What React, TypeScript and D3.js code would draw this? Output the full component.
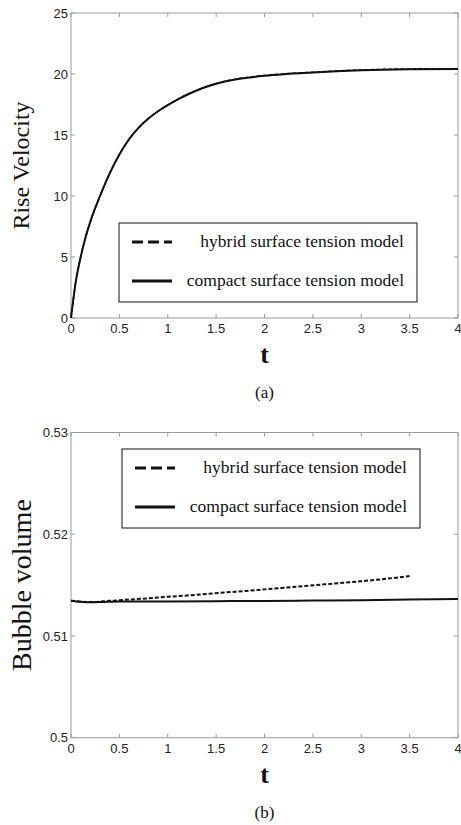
import React, { useEffect, useRef } from "react";
import * as d3 from "d3";

// panel (a): rise velocity vs t
const velT = [0, 0.05, 0.1, 0.15, 0.2, 0.3, 0.4, 0.5, 0.6, 0.7, 0.8, 0.9, 1.0, 1.1, 1.2, 1.3, 1.4, 1.5, 1.6, 1.7, 1.8, 2.0, 2.2, 2.5, 2.8, 3.0, 3.5, 4.0];
const velCompact = [0, 3.0, 5.0, 6.6, 7.9, 10.0, 11.85, 13.4, 14.65, 15.6, 16.35, 16.95, 17.45, 17.9, 18.3, 18.65, 18.95, 19.2, 19.4, 19.55, 19.67, 19.85, 19.98, 20.12, 20.24, 20.3, 20.38, 20.4];
const velHybrid = [0, 3.0, 5.0, 6.6, 7.9, 10.0, 11.85, 13.4, 14.65, 15.6, 16.35, 16.95, 17.45, 17.9, 18.32, 18.67, 18.97, 19.22, 19.42, 19.58, 19.7, 19.88, 20.01, 20.15, 20.27, 20.33, 20.42, 20.44];

// panel (b): bubble volume vs t
const volHybridT = [0, 0.2, 0.4, 0.6, 0.8, 1.0, 1.2, 1.4, 1.6, 1.8, 2.0, 2.2, 2.4, 2.6, 2.8, 3.0, 3.2, 3.4, 3.5];
const volHybrid = [0.51347, 0.51333, 0.51345, 0.51358, 0.5137, 0.51385, 0.51398, 0.51413, 0.51428, 0.51442, 0.51458, 0.51474, 0.5149, 0.51506, 0.51522, 0.51538, 0.51556, 0.51578, 0.5159];
const volCompactT = [0, 0.1, 0.2, 0.35, 0.5, 1.0, 1.5, 2.0, 2.5, 3.0, 3.5, 4.0];
const volCompact = [0.51347, 0.51336, 0.51331, 0.51335, 0.51338, 0.5134, 0.51342, 0.51344, 0.51348, 0.51352, 0.51358, 0.51364];

const xTicks = [0, 0.5, 1, 1.5, 2, 2.5, 3, 3.5, 4];
const velTicks = [0, 5, 10, 15, 20, 25];
const volTicks = [0.5, 0.51, 0.52, 0.53];
const legendLabels = ["hybrid surface tension model", "compact surface tension model"];

const W = 461;
const H = 825;
const axisColor = "#9a9a9a";
const tickFont = "'Liberation Sans', Arial, sans-serif";
const serif = "'Liberation Serif', 'Times New Roman', serif";

function drawPanel(svg, opts) {
  const { top, bottom, yDomain, yTicks, yFmt, ylabel, ylabelSize, caption, series, legend } = opts;
  const left = 71;
  const right = 458;

  const x = d3.scaleLinear().domain([0, 4]).range([left, right]);
  const y = d3.scaleLinear().domain(yDomain).range([bottom, top]);

  const g = svg.append("g");

  // box
  g.append("rect")
    .attr("x", left)
    .attr("y", top)
    .attr("width", right - left)
    .attr("height", bottom - top)
    .attr("fill", "none")
    .attr("stroke", axisColor)
    .attr("stroke-width", 1);

  // inward ticks on all four sides
  const tl = 4;
  xTicks.forEach((t) => {
    g.append("line").attr("x1", x(t)).attr("x2", x(t)).attr("y1", bottom).attr("y2", bottom - tl).attr("stroke", axisColor);
    g.append("line").attr("x1", x(t)).attr("x2", x(t)).attr("y1", top).attr("y2", top + tl).attr("stroke", axisColor);
    g.append("text")
      .attr("x", x(t))
      .attr("y", bottom + 15)
      .attr("text-anchor", "middle")
      .attr("font-family", tickFont)
      .attr("font-size", 13)
      .attr("fill", "#222")
      .text(d3.format("")(t));
  });
  yTicks.forEach((v) => {
    g.append("line").attr("x1", left).attr("x2", left + tl).attr("y1", y(v)).attr("y2", y(v)).attr("stroke", axisColor);
    g.append("line").attr("x1", right).attr("x2", right - tl).attr("y1", y(v)).attr("y2", y(v)).attr("stroke", axisColor);
    g.append("text")
      .attr("x", left - 3)
      .attr("y", y(v))
      .attr("dy", "0.35em")
      .attr("text-anchor", "end")
      .attr("font-family", tickFont)
      .attr("font-size", 13)
      .attr("fill", "#222")
      .text(yFmt(v));
  });

  // curves
  const line = d3
    .line()
    .x((d) => x(d[0]))
    .y((d) => y(d[1]))
    .curve(d3.curveMonotoneX);

  series.forEach((s) => {
    g.append("path")
      .datum(d3.zip(s.t, s.v))
      .attr("d", line)
      .attr("fill", "none")
      .attr("stroke", "#111")
      .attr("stroke-width", s.width)
      .attr("stroke-dasharray", s.dash || null);
  });

  // legend
  const lg = g.append("g");
  lg.append("rect")
    .attr("x", legend.x)
    .attr("y", legend.y)
    .attr("width", legend.w)
    .attr("height", legend.h)
    .attr("fill", "#fff")
    .attr("stroke", "#111")
    .attr("stroke-width", 1);
  legendLabels.forEach((lab, i) => {
    const ly = legend.y + 19 + i * 39;
    lg.append("line")
      .attr("x1", legend.x + 13)
      .attr("x2", legend.x + 53)
      .attr("y1", ly)
      .attr("y2", ly)
      .attr("stroke", "#111")
      .attr("stroke-width", 3)
      .attr("stroke-dasharray", i === 0 ? "11,5" : null);
    lg.append("text")
      .attr("x", legend.x + legend.w - 13)
      .attr("y", ly + 5)
      .attr("text-anchor", "end")
      .attr("font-family", serif)
      .attr("font-size", 17.5)
      .attr("fill", "#111")
      .text(lab);
  });

  // axis labels
  g.append("text")
    .attr("transform", `translate(${ylabelSize > 25 ? 31 : 29},${(top + bottom) / 2}) rotate(-90)`)
    .attr("text-anchor", "middle")
    .attr("font-family", serif)
    .attr("font-size", ylabelSize)
    .attr("fill", "#111")
    .text(ylabel);

  g.append("text")
    .attr("x", (left + right) / 2)
    .attr("y", bottom + 45)
    .attr("text-anchor", "middle")
    .attr("font-family", serif)
    .attr("font-size", 26)
    .attr("font-weight", "bold")
    .attr("fill", "#111")
    .text("t");

  g.append("text")
    .attr("x", (left + right) / 2)
    .attr("y", bottom + 80)
    .attr("text-anchor", "middle")
    .attr("font-family", serif)
    .attr("font-size", 17)
    .attr("fill", "#111")
    .text(caption);
}

export default function App() {
  const svgRef = useRef(null);

  useEffect(() => {
    const svg = d3.select(svgRef.current);
    svg.selectAll("*").remove();

    svg.append("rect").attr("width", W).attr("height", H).attr("fill", "#fff");

    drawPanel(svg, {
      top: 13,
      bottom: 318,
      yDomain: [0, 25],
      yTicks: velTicks,
      yFmt: d3.format(""),
      ylabel: "Rise Velocity",
      ylabelSize: 24,
      caption: "(a)",
      series: [
        { t: velT, v: velCompact, width: 2 },
        { t: velT, v: velHybrid, width: 1.5, dash: "4,2" },
      ],
      legend: { x: 119, y: 223, w: 298, h: 79 },
    });

    drawPanel(svg, {
      top: 432.5,
      bottom: 737.7,
      yDomain: [0.5, 0.53],
      yTicks: volTicks,
      yFmt: (v) => d3.format("")(+v.toFixed(2)),
      ylabel: "Bubble volume",
      ylabelSize: 28,
      caption: "(b)",
      series: [
        { t: volCompactT, v: volCompact, width: 2 },
        { t: volHybridT, v: volHybrid, width: 2, dash: "4,2" },
      ],
      legend: { x: 122, y: 449, w: 298, h: 79 },
    });
  }, []);

  return (
    <svg
      ref={svgRef}
      width={W}
      height={H}
      style={{ position: "absolute", left: 0, top: 0 }}
    ></svg>
  );
}
